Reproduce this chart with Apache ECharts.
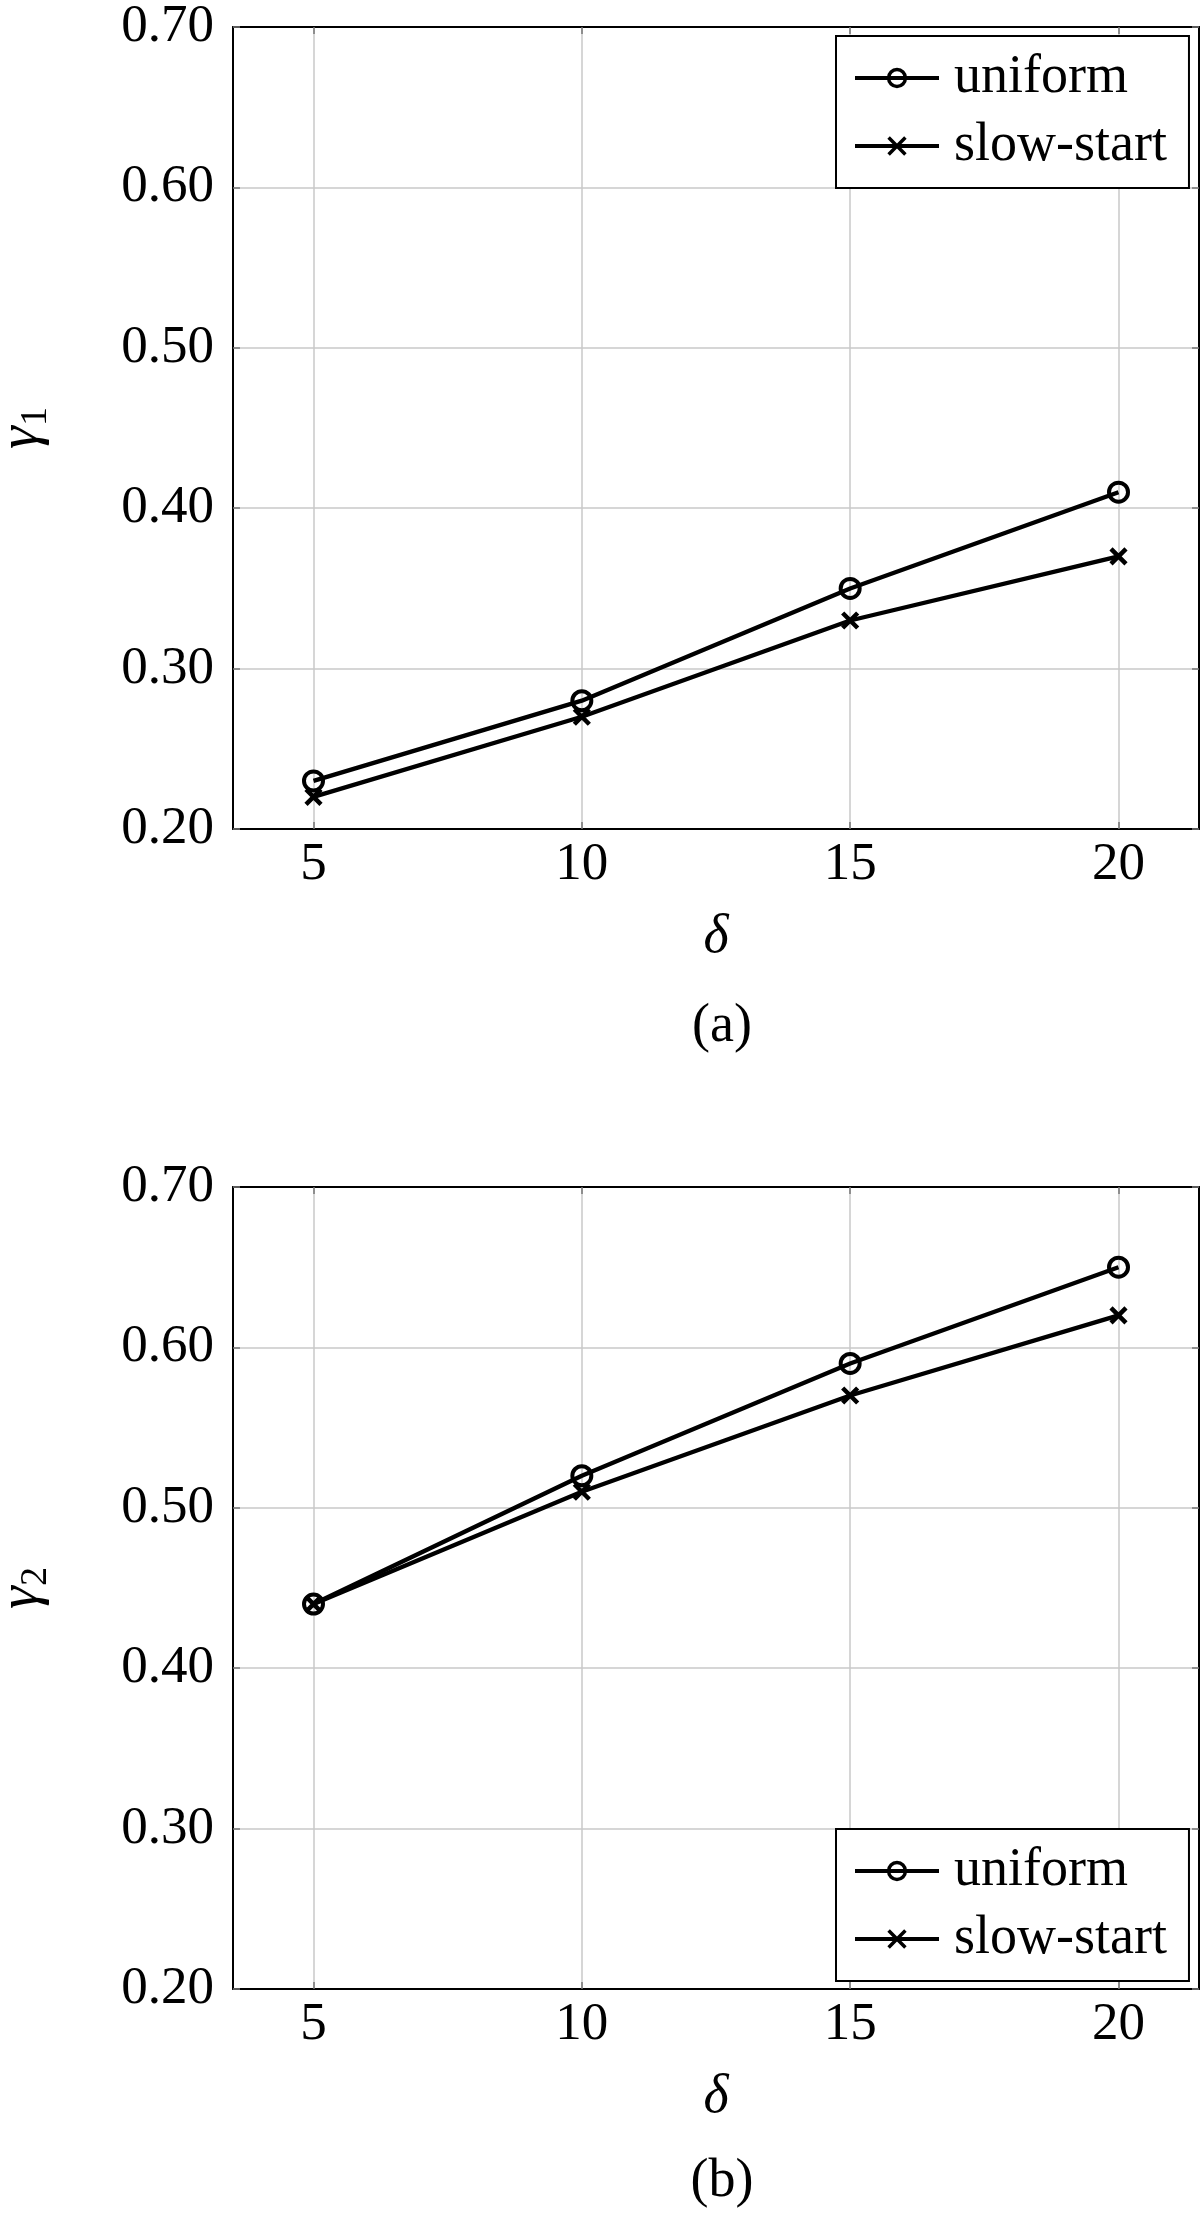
<!DOCTYPE html>
<html>
<head>
<meta charset="utf-8">
<script src="https://cdn.jsdelivr.net/npm/echarts@6/dist/echarts.min.js"></script>
<style>
  html, body { margin: 0; padding: 0; background: #fff; }
  #chart { width: 1200px; height: 2221px; }
</style>
</head>
<body>
<div id="chart"></div>
<script>
  // values
  const deltaValues = [5, 10, 15, 20];
  const xTicks = [5, 10, 15, 20];
  const seriesNames = ['uniform', 'slow-start'];
  const gamma1Uniform = [0.23, 0.28, 0.35, 0.41];
  const gamma1SlowStart = [0.22, 0.27, 0.33, 0.37];
  const gamma2Uniform = [0.44, 0.52, 0.59, 0.65];
  const gamma2SlowStart = [0.44, 0.51, 0.57, 0.62];

  const font = "'Liberation Serif', 'Times New Roman', serif";
  const crossPath = 'path://M0,0L10,10M10,0L0,10';

  function pairs(ys) {
    return deltaValues.map((x, i) => [x, ys[i]]);
  }

  function makeSeries(name, ys, gridIdx) {
    const isCircle = name === 'uniform';
    return {
      name: name,
      type: 'line',
      xAxisIndex: gridIdx * 2,
      yAxisIndex: gridIdx * 2,
      data: pairs(ys),
      symbol: isCircle ? 'circle' : crossPath,
      symbolSize: isCircle ? 19 : 15,
      symbolKeepAspect: true,
      showAllSymbol: true,
      lineStyle: { color: '#000', width: 4.3 },
      itemStyle: {
        color: isCircle ? 'rgba(255,255,255,0)' : '#000',
        borderColor: '#000',
        borderWidth: isCircle ? 4 : 4.5
      },
      z: isCircle ? 3 : 4,
      animation: false
    };
  }

  function xAxes(gridIdx) {
    const common = {
      type: 'value',
      gridIndex: gridIdx,
      min: 3.5,
      max: 21.5,
      axisLine: { show: true, onZero: false, lineStyle: { color: '#000', width: 2 } },
      axisTick: { show: true, inside: true, length: 7, customValues: xTicks, lineStyle: { color: '#777', width: 1.5 } }
    };
    return [
      Object.assign({}, common, {
        position: 'bottom',
        name: 'δ',
        nameLocation: 'middle',
        nameGap: 82,
        nameTextStyle: { fontFamily: font, fontSize: 54, fontStyle: 'italic', color: '#000' },
        axisLabel: { customValues: xTicks, fontFamily: font, fontSize: 53, color: '#000', margin: 10 },
        splitLine: { show: true, lineStyle: { color: '#c8c8c8', width: 1.5 } }
      }),
      Object.assign({}, common, {
        position: 'top',
        axisLabel: { show: false },
        splitLine: { show: false }
      })
    ];
  }

  function yAxes(gridIdx, sub) {
    const common = {
      type: 'value',
      gridIndex: gridIdx,
      min: 0.2,
      max: 0.7,
      interval: 0.1,
      axisLine: { show: true, onZero: false, lineStyle: { color: '#000', width: 2 } },
      axisTick: { show: true, inside: true, length: 7, lineStyle: { color: '#777', width: 1.5 } }
    };
    return [
      Object.assign({}, common, {
        position: 'left',
        name: '{g|γ}{s|' + sub + '}',
        nameLocation: 'middle',
        nameRotate: 90,
        nameGap: 182,
        nameTextStyle: {
          color: '#000',
          rich: {
            g: { fontFamily: font, fontSize: 58, fontStyle: 'italic', lineHeight: 58 },
            s: { fontFamily: font, fontSize: 38, lineHeight: 38, padding: [28, 0, 0, 0] }
          }
        },
        axisLabel: {
          fontFamily: font, fontSize: 53, color: '#000', margin: 19,
          formatter: v => v.toFixed(2)
        },
        splitLine: { show: true, lineStyle: { color: '#c8c8c8', width: 1.5 } }
      }),
      Object.assign({}, common, {
        position: 'right',
        axisLabel: { show: false },
        splitLine: { show: false }
      })
    ];
  }

  function legendAt(top) {
    return {
      data: seriesNames,
      orient: 'vertical',
      left: 836,
      top: top,
      itemWidth: 84,
      itemHeight: 21,
      itemGap: 14,
      padding: [15, 22, 15, 17],
      backgroundColor: '#fff',
      borderColor: '#000',
      borderWidth: 2,
      selectedMode: false,
      lineStyle: { width: 4 },
      itemStyle: { borderWidth: 3.5 },
      textStyle: { fontFamily: font, fontSize: 54, lineHeight: 52, color: '#000', padding: [0, 0, 0, 10] }
    };
  }

  const chart = echarts.init(document.getElementById('chart'), null, { renderer: 'canvas' });

  chart.setOption({
    animation: false,
    backgroundColor: '#fff',
    title: [
      { text: '(a)', left: 717, top: 995, textAlign: 'center',
        textStyle: { fontFamily: font, fontSize: 54, fontWeight: 'normal', color: '#000' } },
      { text: '(b)', left: 717, top: 2150, textAlign: 'center',
        textStyle: { fontFamily: font, fontSize: 54, fontWeight: 'normal', color: '#000' } }
    ],
    legend: [legendAt(36), legendAt(1829)],
    grid: [
      { left: 233, top: 27, width: 966, height: 802, outerBoundsMode: 'none', containLabel: false },
      { left: 233, top: 1187, width: 966, height: 802, outerBoundsMode: 'none', containLabel: false }
    ],
    xAxis: xAxes(0).concat(xAxes(1)),
    yAxis: yAxes(0, '1').concat(yAxes(1, '2')),
    series: [
      makeSeries('uniform', gamma1Uniform, 0),
      makeSeries('slow-start', gamma1SlowStart, 0),
      makeSeries('uniform', gamma2Uniform, 1),
      makeSeries('slow-start', gamma2SlowStart, 1)
    ]
  });
</script>
</body>
</html>
